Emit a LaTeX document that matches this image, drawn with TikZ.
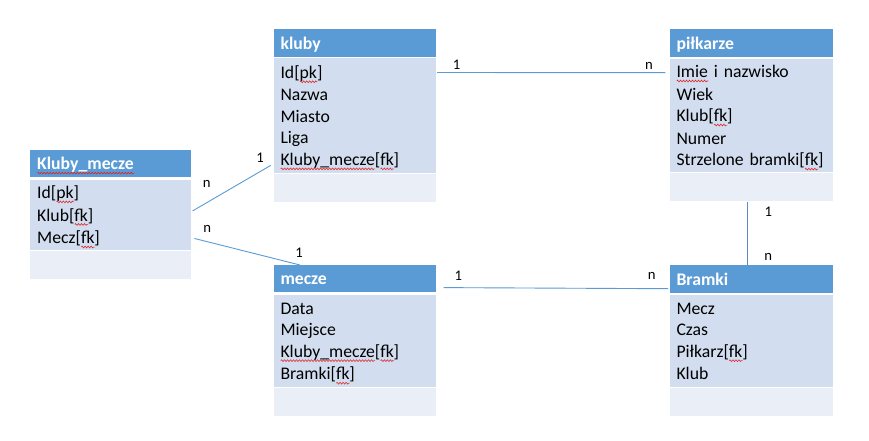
\documentclass[tikz,border=0pt]{standalone}
\usepackage{fontspec}
\setmainfont{Carlito}
\usetikzlibrary{calc,decorations.pathmorphing}

\definecolor{hdrblue}{HTML}{5B9BD5}
\definecolor{rowblue}{HTML}{D2DEEF}
\definecolor{footblue}{HTML}{EAEFF7}
\definecolor{linkblue}{HTML}{5B9BD5}
\definecolor{linkdark}{HTML}{5F8AC0}
\definecolor{spell}{HTML}{E02020}

% red wavy underline (spell-check mark)
\newsavebox\sqbox
\newcommand\sq[1]{\sbox\sqbox{#1}\rlap{\tikz[baseline=0pt]\draw[spell, line width=0.55pt,
    decorate, decoration={zigzag, amplitude=0.9pt, segment length=3pt}]
    (0pt,-3.4pt) -- (\wd\sqbox,-3.4pt);}\usebox\sqbox}
% row strut: 17pt above, 4.5pt below the baseline
\newcommand\rs{\rule[-4.5pt]{0pt}{21.5pt}}

\tikzset{
  cell/.style={anchor=north west, inner xsep=7pt, inner ysep=0pt, align=left,
    font=\fontsize{17.7}{21.5}\selectfont},
  hdr/.style={cell, fill=hdrblue, text=white,
    font=\fontsize{17.7}{21.5}\selectfont\bfseries},
  rows/.style={cell, fill=rowblue, text=black},
  foot/.style={cell, fill=footblue},
  link/.style={draw=linkblue, line width=0.9pt},
  card/.style={anchor=base, font=\fontsize{14.7}{17}\selectfont, inner sep=0pt},
}

\begin{document}
\begin{tikzpicture}[x=1pt, y=-1pt]
\fill[white] (0,0) rectangle (869,441);
\useasboundingbox (0,0) rectangle (869,441);

% Kluby_mecze
\node[hdr, text width=147pt, minimum height=26.7pt] (klubymecze) at (30,150) {\rs\sq{Kluby\_mecze}};
\node[rows, text width=147pt, minimum height=70.7pt] (klubymecze-body) at (30,179.3)
  {\rs Id[\sq{pk}]\\\rs Klub[\sq{fk}]\\\rs Mecz[\sq{fk}]};
\node[foot, text width=147pt, minimum height=27.3pt] (klubymecze-foot) at (30,251) {};

% kluby
\node[hdr, text width=148.4pt, minimum height=27.7pt] (kluby) at (273.3,29) {\rs kluby};
\node[rows, text width=148.4pt, minimum height=114.4pt] (kluby-body) at (273.3,58.3)
  {\rs Id[\sq{pk}]\\\rs Nazwa\\\rs Miasto\\\rs Liga\\\rs \sq{Kluby\_mecze}[\sq{fk}]};
\node[foot, text width=148.4pt, minimum height=27.7pt] (kluby-foot) at (273.3,174) {};

% piłkarze
\node[hdr, text width=149pt, minimum height=28pt] (pilkarze) at (669.3,29) {\rs piłkarze};
\node[rows, text width=149pt, minimum height=113.5pt] (pilkarze-body) at (669.3,58.5)
  {\rs \sq{Imie} i nazwisko\\\rs Wiek\\\rs Klub[\sq{fk}]\\\rs Numer\\\rs Strzelone bramki[\sq{fk}]};
\node[foot, text width=149pt, minimum height=27.7pt] (pilkarze-foot) at (669.3,173) {};

% mecze
\node[hdr, text width=148.4pt, minimum height=26.7pt] (mecze) at (273.3,265) {\rs mecze};
\node[rows, text width=148.4pt, minimum height=92.2pt] (mecze-body) at (273.3,294.5)
  {\rs Data\\\rs Miejsce\\\rs \sq{Kluby\_mecze}[\sq{fk}]\\\rs Bramki[\sq{fk}]};
\node[foot, text width=148.4pt, minimum height=28pt] (mecze-foot) at (273.3,388) {};

% Bramki
\node[hdr, text width=149pt, minimum height=27.3pt] (bramki) at (669.3,265) {\rs Bramki};
\node[rows, text width=149pt, minimum height=92.2pt] (bramki-body) at (669.3,294.5)
  {\rs Mecz\\\rs Czas\\\rs Piłkarz[\sq{fk}]\\\rs Klub};
\node[foot, text width=149pt, minimum height=28pt] (bramki-foot) at (669.3,388) {};

% relationships
\draw[link] ([xshift=1pt,yshift=-14.2pt]kluby-body.north east)
  -- ([xshift=-4pt,yshift=-14.2pt]pilkarze-body.north west);
\draw[link] ([xshift=7.5pt,yshift=4.5pt]mecze.south east)
  -- ([xshift=-1pt,yshift=4pt]bramki.south west);
\draw[link] ([xshift=1.3pt,yshift=4pt]klubymecze-body.east)
  -- ([xshift=-2.6pt,yshift=7.7pt]kluby-body.south west);
\draw[link] ([xshift=3pt,yshift=-23.6pt]klubymecze-body.east)
  -- ([xshift=26.7pt]mecze.north west);
\draw[link, draw=linkdark] ([xshift=-3.5pt,yshift=-1pt]pilkarze-foot.south)
  -- ([xshift=-3.5pt]bramki.north);

% cardinalities
\node[card] (kp-1) at (456.7,69.3) {1};
\node[card] (kp-n) at (649,69.3) {n};
\node[card] (mb-1) at (458.3,280) {1};
\node[card] (mb-n) at (651.7,279.3) {n};
\node[card] (pb-1) at (768.3,216.7) {1};
\node[card] (pb-n) at (768.3,260) {n};
\node[card] (kk-n) at (206.7,187.3) {n};
\node[card] (kk-1) at (260,162.7) {1};
\node[card] (km-n) at (207.3,232.7) {n};
\node[card] (km-1) at (299,257.5) {1};
\end{tikzpicture}
\end{document}
